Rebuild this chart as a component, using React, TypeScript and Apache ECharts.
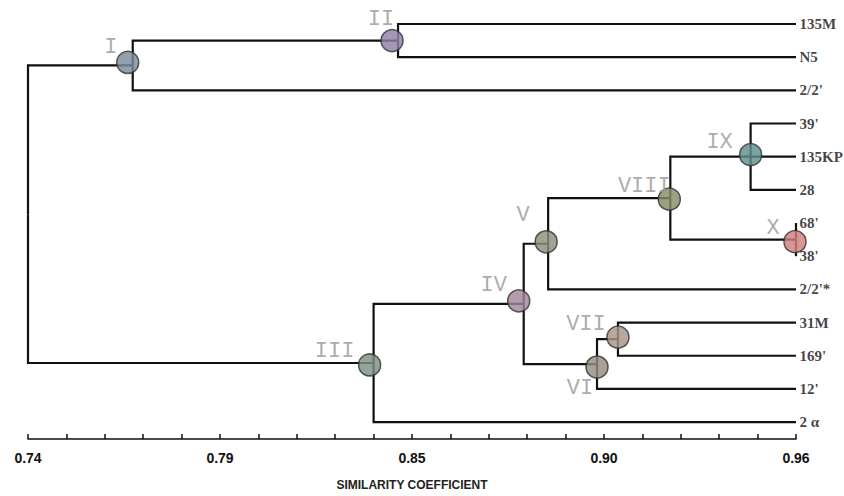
import React, { useEffect, useRef } from "react";
import * as echarts from "echarts";

// ---- data ----
const leafNames = ["135M", "N5", "2/2'", "39'", "135KP", "28", "68'", "38'", "2/2'*", "31M", "169'", "12'", "2 α"];
const leafSimilarity = [0.96, 0.96, 0.96, 0.96, 0.96, 0.96, 0.96, 0.96, 0.96, 0.96, 0.96, 0.96, 0.96];
const clusterNames = ["root", "I", "II", "III", "IV", "V", "VI", "VII", "VIII", "IX", "X"];
const clusterSimilarity = [0.74, 0.770, 0.846, 0.839, 0.882, 0.889, 0.903, 0.909, 0.924, 0.947, 0.96];
const clusterChildren = [
  ["I", "III"],
  ["II", "2/2'"],
  ["135M", "N5"],
  ["IV", "2 α"],
  ["V", "VI"],
  ["VIII", "2/2'*"],
  ["VII", "12'"],
  ["31M", "169'"],
  ["IX", "X"],
  ["39'", "135KP", "28"],
  ["68'", "38'"],
];
const tickValues = [0.74, 0.795, 0.85, 0.905, 0.96];
const tickLabels = ["0.74", "0.79", "0.85", "0.90", "0.96"];
const minorTickStep = 0.011;
const axisTitle = "SIMILARITY COEFFICIENT";

// ---- styles ----
const nodeStyle: Record<string, { color: string; circle: number[]; text: number[] }> = {
  I: { color: "#7b8c9e", circle: [-5, -3], text: [-22, -18] },
  II: { color: "#8e80a6", circle: [-6, 0], text: [-17, -21] },
  III: { color: "#7f8f82", circle: [-4, 2], text: [-39, -11] },
  IV: { color: "#a08898", circle: [-5, -3], text: [-30, -18] },
  V: { color: "#8e8e7e", circle: [-2, -2], text: [-25, -28] },
  VI: { color: "#968b7f", circle: [0, 3], text: [-17, 24] },
  VII: { color: "#a89488", circle: [0, -2], text: [-32, -15] },
  VIII: { color: "#878c66", circle: [-1, 1], text: [-26, -12] },
  IX: { color: "#5f8d8f", circle: [0, -2], text: [-31, -14] },
  X: { color: "#d07f80", circle: [-1, 2], text: [-23, -11] },
};

function buildPositions() {
  const pos: Record<string, number[]> = {};
  leafNames.forEach((n, i) => (pos[n] = [leafSimilarity[i], i]));
  const get = (name: string): number[] => {
    if (pos[name]) return pos[name];
    const idx = clusterNames.indexOf(name);
    const ys = clusterChildren[idx].map((c) => get(c)[1]);
    pos[name] = [clusterSimilarity[idx], (Math.min(...ys) + Math.max(...ys)) / 2];
    return pos[name];
  };
  clusterNames.forEach((n) => get(n));
  return pos;
}

export default function App() {
  const ref = useRef<HTMLDivElement>(null);
  useEffect(() => {
    if (!ref.current) return;
    const chart = echarts.init(ref.current, undefined, { renderer: "svg" });
    const pos = buildPositions();
    const segments: any[] = [];
    clusterNames.forEach((n, idx) => {
      const p = pos[n];
      clusterChildren[idx].forEach((c) => {
        const q = pos[c];
        segments.push({ coords: [[p[0], p[1]], [p[0], q[1]], [q[0], q[1]]] });
      });
    });
    const minorTicks: number[] = [];
    for (let i = 0; i <= 20; i++) minorTicks.push(+(0.74 + i * minorTickStep).toFixed(4));

    const nodeData = clusterNames
      .filter((n) => n !== "root")
      .map((n) => {
        const s = nodeStyle[n];
        return {
          name: n,
          value: pos[n],
          symbolOffset: s.circle,
          itemStyle: { color: s.color },
          label: { offset: [s.text[0] - s.circle[0], s.text[1] - s.circle[1]] },
        };
      });

    chart.setOption({
      animation: false,
      backgroundColor: "#ffffff",
      grid: { left: 28, right: 48, top: 24, bottom: 55 },
      xAxis: {
        type: "value",
        position: "bottom",
        min: 0.74,
        max: 0.96,
        name: axisTitle,
        nameLocation: "middle",
        nameGap: 40,
        nameTextStyle: { fontFamily: "Liberation Sans", fontWeight: "bold", fontSize: 12, color: "#222" },
        axisLine: { show: true, onZero: false, lineStyle: { color: "#111", width: 1.5 } },
        axisTick: { show: true, inside: true, length: 5, customValues: minorTicks, lineStyle: { color: "#111", width: 1.5 } },
        axisLabel: {
          customValues: tickValues,
          margin: 12,
          fontFamily: "Liberation Sans",
          fontWeight: "bold",
          fontSize: 14,
          color: "#111",
          formatter: (v: number) => {
            let best = 0;
            tickValues.forEach((t, i) => {
              if (Math.abs(t - v) < Math.abs(tickValues[best] - v)) best = i;
            });
            return tickLabels[best];
          },
        },
        splitLine: { show: false },
      },
      yAxis: { type: "value", min: 0, max: 12.51, inverse: true, show: false },
      series: [
        {
          type: "lines",
          coordinateSystem: "cartesian2d",
          polyline: true,
          clip: false,
          lineStyle: { color: "#111", width: 2.2, opacity: 1, join: "miter" },
          data: segments,
          z: 2,
        },
        {
          type: "scatter",
          clip: false,
          symbol: "circle",
          symbolSize: 22,
          itemStyle: { borderColor: "#333", borderWidth: 1.5, opacity: 0.82 },
          label: {
            show: true,
            position: "inside",
            formatter: "{b}",
            fontFamily: "Liberation Mono",
            fontSize: 22,
            color: "#9a9a9a",
          },
          data: nodeData,
          z: 3,
        },
        {
          type: "scatter",
          clip: false,
          symbolSize: 1,
          itemStyle: { color: "transparent" },
          label: {
            show: true,
            position: "right",
            distance: 3,
            formatter: "{b}",
            fontFamily: "Liberation Serif",
            fontWeight: "bold",
            fontSize: 15,
            color: "#111",
          },
          data: leafNames.map((n, i) => ({ name: n, value: [leafSimilarity[i], i] })),
          z: 4,
        },
      ],
    });
    return () => chart.dispose();
  }, []);
  return <div ref={ref} style={{ position: "absolute", left: 0, top: 0, width: 844, height: 496 }} />;
}
